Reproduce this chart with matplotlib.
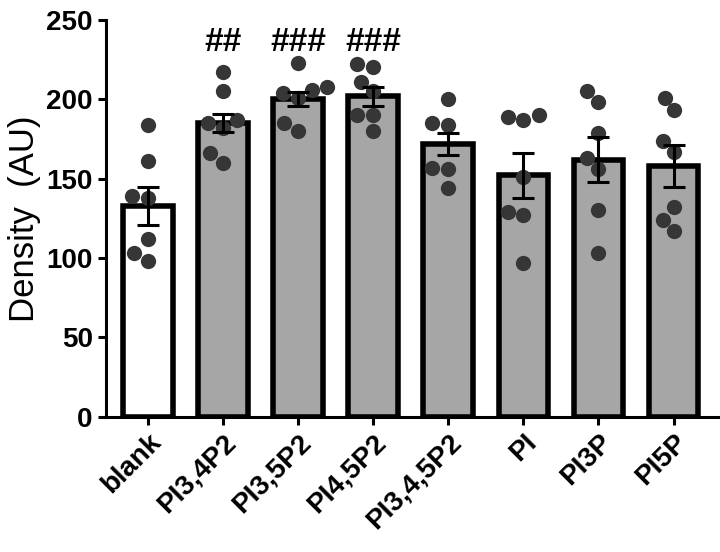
import matplotlib
matplotlib.use('Agg')
import matplotlib.pyplot as plt
import numpy as np
import pandas as pd
import seaborn as sns

plt.rcParams['font.family'] = ['Liberation Sans', 'DejaVu Sans']

groups = ['blank', 'PI3,4P2', 'PI3,5P2', 'PI4,5P2', 'PI3,4,5P2', 'PI', 'PI3P', 'PI5P']

# individual points
blank = [184, 161, 139, 138, 112, 98, 103]
pi34p2 = [217, 205, 182, 185, 187, 166, 160]
pi35p2 = [223, 208, 206, 204, 201, 185, 180]
pi45p2 = [220, 222, 211, 205, 190, 190, 180]
pi345p2 = [200, 185, 184, 157, 156, 144]
pi = [189, 187, 190, 151, 129, 127, 97]
pi3p = [205, 198, 179, 163, 156, 130, 103]
pi5p = [201, 193, 174, 167, 132, 124, 117]

means = [133, 185, 200, 202, 172, 152, 162, 158]
sems = [12, 5.5, 4.5, 6, 7, 14, 14, 13]
marks = ['', '##', '###', '###', '', '', '', '']

points = [blank, pi34p2, pi35p2, pi45p2, pi345p2, pi, pi3p, pi5p]
df = pd.DataFrame({
    'group': [g for g, vals in zip(groups, points) for v in vals],
    'value': [v for vals in points for v in vals],
})

fig = plt.figure(figsize=(7.2, 5.52), dpi=100)
ax = fig.add_axes([0.147, 0.245, 0.85, 0.719])

x = np.arange(len(groups))
colors = ['white'] + ['#a6a6a6'] * (len(groups) - 1)
ax.bar(x, means, width=0.66, color=colors, edgecolor='black', linewidth=4, zorder=2)

sns.swarmplot(data=df, x='group', y='value', order=groups, color='#363636',
              size=11, linewidth=0, ax=ax, zorder=3, warn_thresh=1)

ax.errorbar(x, means, yerr=sems, fmt='none', ecolor='black', elinewidth=2.2,
            capsize=8, capthick=2.2, zorder=4)

for xi, m in zip(x, marks):
    if m:
        ax.text(xi, 236, m, ha='center', va='center', fontsize=24, fontweight='bold')

ax.set_xlim(-0.56, 7.59)
ax.set_ylim(0, 250)
ax.set_yticks([0, 50, 100, 150, 200, 250])
ax.set_xticks(x)
ax.set_xticklabels(groups, rotation=45, ha='right', rotation_mode='anchor')
ax.set_xlabel('')
ax.set_ylabel('Density  (AU)', fontsize=25, labelpad=4)

for s in ['top', 'right']:
    ax.spines[s].set_visible(False)
for s in ['left', 'bottom']:
    ax.spines[s].set_linewidth(2.2)
ax.tick_params(width=2.2, length=6, labelsize=20)
ax.tick_params(axis='x', pad=3)
for lab in ax.get_xticklabels() + ax.get_yticklabels():
    lab.set_fontweight('bold')

fig.savefig('out.png', dpi=100)
